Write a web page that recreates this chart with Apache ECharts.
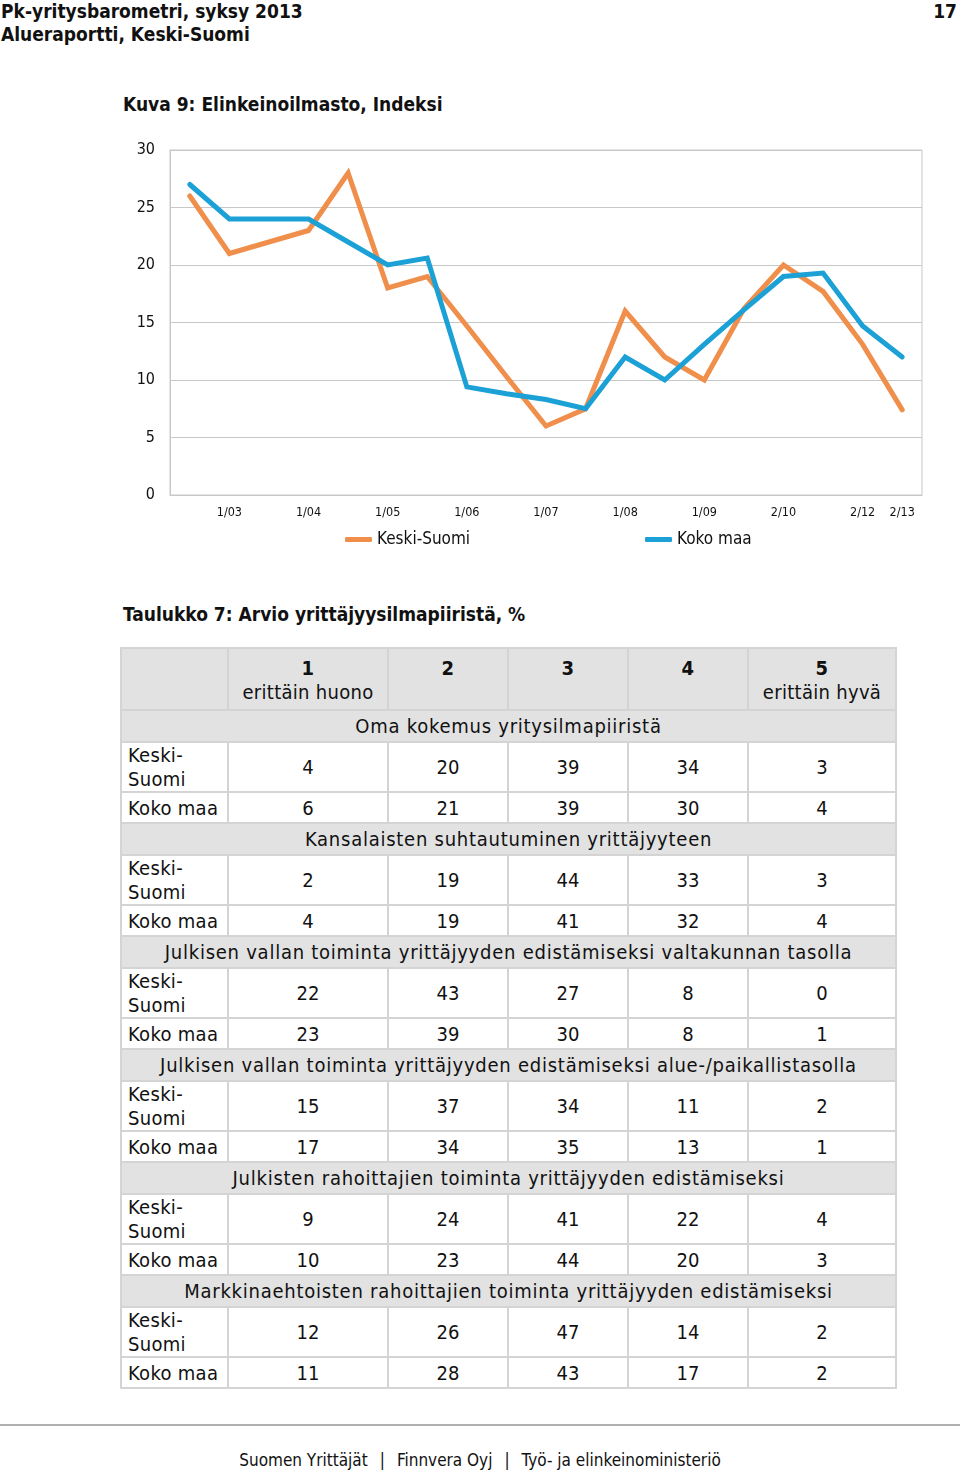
<!DOCTYPE html>
<html>
<head>
<meta charset="utf-8">
<script src="https://cdn.jsdelivr.net/npm/echarts@6/dist/echarts.min.js"></script>
<style>
  html, body { margin: 0; padding: 0; background: #fff; }
  body { width: 960px; height: 1472px; position: relative; overflow: hidden;
         font-family: "DejaVu Sans Condensed", "DejaVu Sans", sans-serif; color: #111; }
  .abs { position: absolute; white-space: nowrap; }
  #hdr1 { left: 1px; top: 0px; font-size: 19px; line-height: 22px; font-weight: bold; }
  #hdr2 { left: 1px; top: 23px; font-size: 19px; line-height: 22px; font-weight: bold; }
  #pageno { right: 3px; top: 0px; font-size: 19px; line-height: 22px; font-weight: bold; }
  #ctitle { left: 123px; top: 92px; font-size: 19px; line-height: 24px; font-weight: bold; }
  #ttitle { left: 123px; top: 602px; font-size: 19px; line-height: 24px; font-weight: bold; }
  #chart { position: absolute; left: 0; top: 130px; width: 960px; height: 430px; }
  #tbl { position: absolute; left: 120px; top: 647px; border-collapse: collapse; font-size: 20px; table-layout: fixed; }
  #tbl td { border: 2px solid #d4d4d4; padding: 0; text-align: center; white-space: nowrap; }
  #tbl tr.hd td { background: #e2e2e2; height: 62px; vertical-align: top; line-height: 24px; padding-top: 7px; box-sizing: border-box; letter-spacing: 0.3px; }
  #tbl tr.sec td { background: #e2e2e2; height: 30px; line-height: 28px; letter-spacing: 0.75px; }
  #tbl tr.ks td { height: 46px; line-height: 24px; }
  #tbl tr.km td { height: 29px; line-height: 28px; }
  #tbl td.lab { text-align: left; padding-left: 6px; letter-spacing: 0.3px; }
  #rule { position: absolute; left: 0; top: 1424px; width: 960px; height: 2px; background: #b0b0b0; }
  #footer { left: 0; width: 960px; top: 1449px; text-align: center; font-size: 17px; line-height: 22px; }
  #footer .sep { margin: 0 12px; }
</style>
</head>
<body>
<div id="hdr1" class="abs">Pk-yritysbarometri, syksy 2013</div>
<div id="hdr2" class="abs">Alueraportti, Keski-Suomi</div>
<div id="pageno" class="abs">17</div>
<div id="ctitle" class="abs">Kuva 9: Elinkeinoilmasto, Indeksi</div>
<div id="chart"></div>
<div id="ttitle" class="abs">Taulukko 7: Arvio yrittäjyysilmapiiristä, %</div>
<table id="tbl"></table>
<div id="rule"></div>
<div id="footer" class="abs">Suomen Yrittäjät<span class="sep">|</span>Finnvera Oyj<span class="sep">|</span>Työ- ja elinkeinoministeriö</div>

<script>
// ---- Chart data ----
var periods = ["2/02","1/03","2/03","1/04","2/04","1/05","2/05","1/06","2/06","1/07","2/07","1/08","2/08","1/09","2/09","2/10","2/11","2/12","2/13"];
var shownLabelIdx = [1,3,5,7,9,11,13,15,17,18];
var keskiSuomi = [26, 21, 22, 23, 28, 18, 19, 14.7, 10.3, 6, 7.5, 16, 12, 10, 16.2, 20, 17.7, 13.1, 7.4];
var kokoMaa    = [27, 24, 24, 24, 22, 20, 20.6, 9.4, 8.8, 8.3, 7.5, 12, 10, 13.1, 16.1, 19, 19.3, 14.7, 12];
var yTicks = [0, 5, 10, 15, 20, 25, 30];

// ---- Table data ----
var colHeads = ["1", "2", "3", "4", "5"];
var colSubs  = ["erittäin huono", "", "", "", "erittäin hyvä"];
var sections = [
  "Oma kokemus yritysilmapiiristä",
  "Kansalaisten suhtautuminen yrittäjyyteen",
  "Julkisen vallan toiminta yrittäjyyden edistämiseksi valtakunnan tasolla",
  "Julkisen vallan toiminta yrittäjyyden edistämiseksi alue-/paikallistasolla",
  "Julkisten rahoittajien toiminta yrittäjyyden edistämiseksi",
  "Markkinaehtoisten rahoittajien toiminta yrittäjyyden edistämiseksi"
];
var rowLabels = ["Keski-<br>Suomi", "Koko maa"];
var ksValues = [
  [4, 20, 39, 34, 3],
  [2, 19, 44, 33, 3],
  [22, 43, 27, 8, 0],
  [15, 37, 34, 11, 2],
  [9, 24, 41, 22, 4],
  [12, 26, 47, 14, 2]
];
var kmValues = [
  [6, 21, 39, 30, 4],
  [4, 19, 41, 32, 4],
  [23, 39, 30, 8, 1],
  [17, 34, 35, 13, 1],
  [10, 23, 44, 20, 3],
  [11, 28, 43, 17, 2]
];

// ---- Build table ----
(function () {
  var widths = [107, 160, 120, 120, 120, 148];
  var html = '<colgroup>' + widths.map(function (w) { return '<col style="width:' + w + 'px">'; }).join('') + '</colgroup>';
  html += '<tr class="hd"><td></td>';
  for (var i = 0; i < colHeads.length; i++) {
    html += '<td><b>' + colHeads[i] + '</b>' + (colSubs[i] ? '<br>' + colSubs[i] : '') + '</td>';
  }
  html += '</tr>';
  for (var s = 0; s < sections.length; s++) {
    html += '<tr class="sec"><td colspan="6">' + sections[s] + '</td></tr>';
    html += '<tr class="ks"><td class="lab">' + rowLabels[0] + '</td>' + ksValues[s].map(function (v) { return '<td>' + v + '</td>'; }).join('') + '</tr>';
    html += '<tr class="km"><td class="lab">' + rowLabels[1] + '</td>' + kmValues[s].map(function (v) { return '<td>' + v + '</td>'; }).join('') + '</tr>';
  }
  document.getElementById('tbl').innerHTML = html;
})();

// ---- Chart ----
var chart = echarts.init(document.getElementById('chart'), null, { renderer: 'canvas' });
var fontFam = '"DejaVu Sans Condensed", "DejaVu Sans", sans-serif';
chart.setOption({
  animation: false,
  textStyle: { fontFamily: fontFam },
  grid: { left: 170, right: 38, top: 20, bottom: 65, show: true, borderColor: '#c8c8c8', borderWidth: 1 },
  legend: [
    { data: ['Keski-Suomi'], left: 345, top: 401, padding: 0, icon: 'roundRect', itemWidth: 27, itemHeight: 5,
      textStyle: { fontSize: 17, color: '#111', fontFamily: fontFam } },
    { data: ['Koko maa'], left: 645, top: 401, padding: 0, icon: 'roundRect', itemWidth: 27, itemHeight: 5,
      textStyle: { fontSize: 17, color: '#111', fontFamily: fontFam } }
  ],
  xAxis: {
    type: 'category',
    data: periods,
    boundaryGap: true,
    axisLine: { show: true, lineStyle: { color: '#c8c8c8', width: 1 } },
    axisTick: { show: false },
    axisLabel: {
      interval: function (idx) { return shownLabelIdx.indexOf(idx) >= 0; },
      fontSize: 12.5, color: '#111', margin: 11, fontFamily: fontFam
    }
  },
  yAxis: {
    type: 'value',
    min: yTicks[0], max: yTicks[yTicks.length - 1], interval: 5,
    axisLine: { show: true, lineStyle: { color: '#c8c8c8' } },
    axisTick: { show: false },
    axisLabel: { fontSize: 16, color: '#111', margin: 15, fontFamily: fontFam },
    splitLine: { show: true, lineStyle: { color: '#c8c8c8', width: 1 } }
  },
  series: [
    { name: 'Keski-Suomi', type: 'line', data: keskiSuomi, symbol: 'none',
      lineStyle: { width: 5, color: '#EF8F4B', cap: 'round', join: 'miter' }, itemStyle: { color: '#EF8F4B' } },
    { name: 'Koko maa', type: 'line', data: kokoMaa, symbol: 'none',
      lineStyle: { width: 5, color: '#1BA1D5', cap: 'round', join: 'miter' }, itemStyle: { color: '#1BA1D5' } }
  ]
});
</script>
</body>
</html>
